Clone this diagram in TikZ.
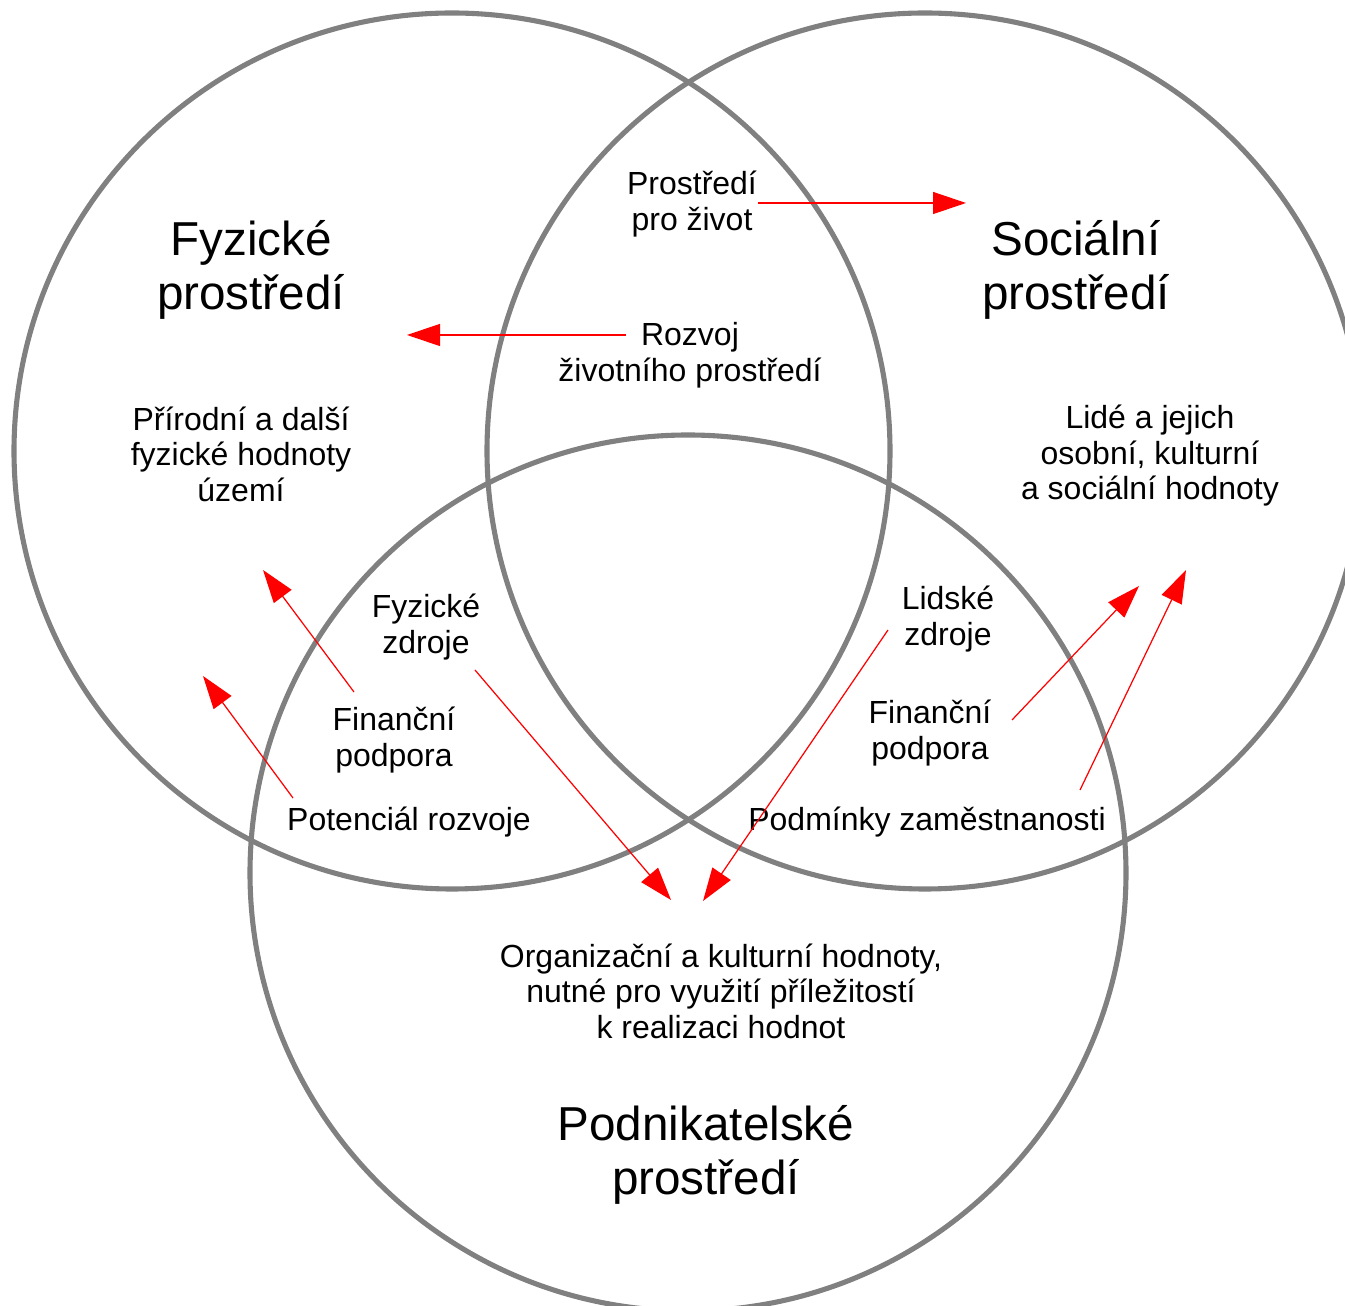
\documentclass[tikz,border=0pt]{standalone}
\usepackage{fontspec}
\setmainfont{Liberation Sans}
\definecolor{ringgray}{RGB}{128, 128, 128}
\definecolor{flowred}{RGB}{255, 0, 0}
\usetikzlibrary{arrows.meta}
\tikzset{
  ring/.style={circle, draw=ringgray, line width=1.45pt, minimum size=8.76cm, inner sep=0pt},
  bigtitle/.style={align=center, inner sep=0pt, font=\fontsize{13.55}{15.4}\selectfont},
  txt/.style={align=center, inner sep=0pt, font=\fontsize{9.1}{10.1}\selectfont},
  flow/.style={draw=flowred, line width=0.35pt, -{Triangle[length=0.33cm, width=0.22cm]}}
}

\begin{document}
\begin{tikzpicture}
  \useasboundingbox (0, 0) rectangle (13.45, -13.06);
  \clip (0, 0) rectangle (13.45, -13.06);

  % Circles
  \node[ring] (fyzring) at (4.52, -4.51) {};
  \node[ring] (socring) at (9.25, -4.51) {};
  \node[ring] (podring) at (6.88, -8.73) {};

  % Titles
  \node[bigtitle] (fyzT) at (2.51, -2.70) {Fyzické\\prostředí};
  \node[bigtitle] (socT) at (10.76, -2.70) {Sociální\\prostředí};
  \node[bigtitle] (podT) at (7.06, -11.55) {Podnikatelské\\prostředí};

  % Values
  \node[txt] (prirodni) at (2.41, -4.54) {Přírodní a další\\fyzické hodnoty\\území};
  \node[txt] (lide) at (11.50, -4.56) {Lidé a jejich\\osobní, kulturní\\a sociální hodnoty};
  \node[txt] (organiz) at (7.21, -9.91) {Organizační a kulturní hodnoty,\\nutné pro využití příležitostí\\k realizaci hodnot};

  % Exchanges
  \node[txt] (zivot) at (6.92, -2.04) {Prostředí\\pro život};
  \node[txt] (rozvoj) at (6.90, -3.55) {Rozvoj\\životního prostředí};
  \node[txt] (fzdroje) at (4.26, -6.27) {Fyzické\\zdroje};
  \node[txt] (finL) at (3.94, -7.40) {Finanční\\podpora};
  \node[txt] (potencial) at (4.09, -8.22) {Potenciál rozvoje};
  \node[txt] (lzdroje) at (9.48, -6.19) {Lidské\\zdroje};
  \node[txt] (finR) at (9.30, -7.33) {Finanční\\podpora};
  \node[txt] (podminky) at (9.27, -8.22) {Podmínky zaměstnanosti};

  % Arrow ends
  \coordinate (zivotTip) at (9.66, -2.03);
  \coordinate (rozvojFrom) at (6.26, -3.35);
  \coordinate (rozvojTip) at (4.07, -3.35);
  \coordinate (finLFrom) at (3.54, -6.92);
  \coordinate (finLTip) at (2.63, -5.70);
  \coordinate (potFrom) at (2.93, -7.98);
  \coordinate (potTip) at (2.03, -6.76);
  \coordinate (fzFrom) at (4.75, -6.70);
  \coordinate (fzTip) at (6.71, -9.00);
  \coordinate (lzFrom) at (8.88, -6.30);
  \coordinate (lzTip) at (7.03, -9.01);
  \coordinate (finRFrom) at (10.12, -7.20);
  \coordinate (finRTip) at (11.39, -5.86);
  \coordinate (podmFrom) at (10.80, -7.90);
  \coordinate (podmTip) at (11.86, -5.70);

  % Arrows
  \draw[flow] (zivot.east |- zivotTip) -- (zivotTip);
  \draw[flow] (rozvojFrom) -- (rozvojTip);
  \draw[flow] (finLFrom) -- (finLTip);
  \draw[flow] (potFrom) -- (potTip);
  \draw[flow] (fzFrom) -- (fzTip);
  \draw[flow] (lzFrom) -- (lzTip);
  \draw[flow] (finRFrom) -- (finRTip);
  \draw[flow] (podmFrom) -- (podmTip);
\end{tikzpicture}
\end{document}
